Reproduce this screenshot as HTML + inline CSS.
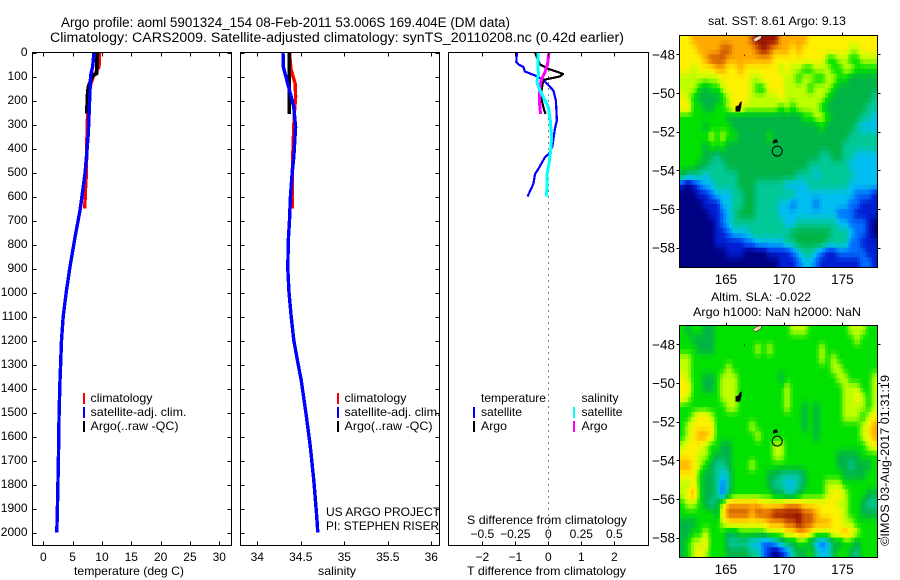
<!DOCTYPE html>
<html lang="en">
<head>
<meta charset="utf-8">
<title>Argo profile 5901324_154</title>
<style>
html,body{margin:0;padding:0;background:#fff;width:900px;height:580px;overflow:hidden}
svg{display:block}
text{font-family:"Liberation Sans",Arial,sans-serif;font-size:12px;fill:#000}
.ttl{font-size:13.5px}
.maptick{font-size:13.5px}
.line{fill:none;shape-rendering:crispEdges;stroke-linejoin:round}
</style>
</head>
<body>
<svg id="chart" xmlns="http://www.w3.org/2000/svg" width="900" height="580" viewBox="0 0 900 580">
<defs>
<clipPath id="clip-sst"><rect x="680" y="36" width="197" height="231"/></clipPath>
<clipPath id="clip-sla"><rect x="680" y="326" width="197" height="231"/></clipPath>
</defs>

<text class="ttl" x="61" y="27" textLength="449" lengthAdjust="spacingAndGlyphs">Argo profile: aoml 5901324_154 08-Feb-2011 53.006S 169.404E (DM data)</text>
<text class="ttl" x="50" y="42" textLength="574" lengthAdjust="spacingAndGlyphs">Climatology: CARS2009. Satellite-adjusted climatology: synTS_20110208.nc (0.42d earlier)</text>

<text x="74" y="575" textLength="110" lengthAdjust="spacingAndGlyphs">temperature (deg C)</text>
<text x="318" y="575" textLength="38" lengthAdjust="spacingAndGlyphs">salinity</text>
<text x="467" y="575" textLength="159" lengthAdjust="spacingAndGlyphs">T difference from climatology</text>
<text x="467" y="524" textLength="160" lengthAdjust="spacingAndGlyphs">S difference from climatology</text>

<text x="326" y="516" textLength="114" lengthAdjust="spacingAndGlyphs">US ARGO PROJECT</text>
<text x="326" y="530" textLength="113" lengthAdjust="spacingAndGlyphs">PI: STEPHEN RISER</text>

<text x="708" y="25" textLength="138" lengthAdjust="spacingAndGlyphs">sat. SST: 8.61 Argo: 9.13</text>
<text x="711" y="301" textLength="100" lengthAdjust="spacingAndGlyphs">Altim. SLA: -0.022</text>
<text x="693" y="316" textLength="168" lengthAdjust="spacingAndGlyphs">Argo h1000: NaN h2000: NaN</text>
<text transform="translate(889,546) rotate(-90)" x="0" y="0" textLength="171" lengthAdjust="spacingAndGlyphs">©IMOS 03-Aug-2017 01:31:19</text>

<g id="maps"></g>
<g id="profiles"></g>
<g id="axes"></g>

<g>
<rect x="83" y="393" width="2" height="11" fill="#ff0000"/>
<text x="90.5" y="402" textLength="62" lengthAdjust="spacingAndGlyphs">climatology</text>
<rect x="83" y="407" width="2" height="11" fill="#0000ff"/>
<text x="90.5" y="416" textLength="96" lengthAdjust="spacingAndGlyphs">satellite-adj. clim.</text>
<rect x="83" y="421" width="2" height="11" fill="#000"/>
<text x="90.5" y="430" textLength="88" lengthAdjust="spacingAndGlyphs">Argo(..raw -QC)</text>
</g>
<g>
<rect x="337" y="393" width="2" height="11" fill="#ff0000"/>
<text x="344.5" y="402" textLength="62" lengthAdjust="spacingAndGlyphs">climatology</text>
<rect x="337" y="407" width="2" height="11" fill="#0000ff"/>
<text x="344.5" y="416" textLength="96" lengthAdjust="spacingAndGlyphs">satellite-adj. clim.</text>
<rect x="337" y="421" width="2" height="11" fill="#000"/>
<text x="344.5" y="430" textLength="88" lengthAdjust="spacingAndGlyphs">Argo(..raw -QC)</text>
</g>
<g>
<text x="481" y="402" textLength="65" lengthAdjust="spacingAndGlyphs">temperature</text>
<rect x="473" y="407" width="2" height="11" fill="#0000ff"/>
<text x="481" y="416" textLength="41" lengthAdjust="spacingAndGlyphs">satellite</text>
<rect x="473" y="421" width="2" height="11" fill="#000"/>
<text x="481" y="430" textLength="26" lengthAdjust="spacingAndGlyphs">Argo</text>
<text x="581.5" y="402" textLength="37" lengthAdjust="spacingAndGlyphs">salinity</text>
<rect x="573" y="407" width="2" height="11" fill="#00ffff"/>
<text x="581.5" y="416" textLength="41" lengthAdjust="spacingAndGlyphs">satellite</text>
<rect x="573" y="421" width="2" height="11" fill="#ff00ff"/>
<text x="581.5" y="430" textLength="26" lengthAdjust="spacingAndGlyphs">Argo</text>
</g>
</svg>

<script>
// ---------- profile data ----------
const depthTicks = [0,100,200,300,400,500,600,700,800,900,1000,1100,1200,1300,1400,1500,1600,1700,1800,1900,2000];
const tempTicks = [0,5,10,15,20,25,30];
const salTicks = [34,34.5,35,35.5,36];
const salTickLabels = ['34','34.5','35','35.5','36'];
const tDiffTicks = [-2,-1,0,1,2];
const tDiffLabels = ['\u22122','\u22121','0','1','2'];
const sDiffTicks = [-0.5,-0.25,0,0.25,0.5];
const sDiffLabels = ['\u22120.5','\u22120.25','0','0.25','0.5'];

const tempClimDepth = [0,60,95,130,200,290,400,500,570,650];
const tempClimValue = [9.6,9.5,8.6,8.1,7.7,7.5,7.4,7.35,7.2,7.05];
const tempArgoDepth = [0,87,96,145,190,255];
const tempArgoValue = [9.2,9.1,8.4,7.67,7.5,7.45];
const tempSatDepth = [0,61,96,200,338,422,505,589,658,770,900,1000,1100,1200,1367,1500,1700,1900,2000];
const tempSatValue = [8.64,8.4,8.07,7.9,7.67,7.4,7.1,6.65,6.25,5.4,4.5,3.9,3.4,3.1,2.85,2.7,2.57,2.4,2.3];

const salClimDepth = [0,70,103,132,186,256,367,463,650];
const salClimValue = [34.37,34.387,34.414,34.437,34.44,34.425,34.414,34.405,34.4];
const salArgoDepth = [0,100,256];
const salArgoValue = [34.368,34.368,34.368];
const salSatDepth = [0,61,117,172,228,311,436,505,603,700,783,900,1000,1100,1200,1300,1367,1504,1645,1783,1921,2000];
const salSatValue = [34.295,34.3,34.34,34.38,34.42,34.44,34.42,34.4,34.38,34.37,34.356,34.35,34.364,34.39,34.42,34.47,34.506,34.56,34.61,34.65,34.68,34.695];

const diffTSatDepth = [0,40,51,61,79,96,114,158,200,283,318,394,422,436,485,506,547,600];
const diffTSatValue = [-0.95,-0.97,-0.89,-0.75,-0.71,-0.4,-0.15,0.15,0.23,0.26,0.2,0.12,0.02,-0.1,-0.3,-0.4,-0.45,-0.63];
const diffTArgoDepth = [0,19,50,68,89,100,114,172,200,242,256];
const diffTArgoValue = [-0.4,-0.35,-0.25,0,0.45,0.35,-0.15,-0.22,-0.2,-0.12,-0.08];
const diffSSatDepth = [0,89,124,158,200,228,283,353,408,464,506,600];
const diffSSatValue = [-0.078,-0.076,-0.086,-0.063,-0.025,0,0.015,0.025,0.018,0.005,-0.008,-0.013];
const diffSArgoDepth = [0,47,82,110,138,200,256];
const diffSArgoValue = [0.005,-0.005,-0.025,-0.05,-0.063,-0.068,-0.058];

// ---------- map data (colour level per half-degree cell, north to south) ----------
const mapLonTicks = [165,170,175];
const mapLatTicks = [-48,-50,-52,-54,-56,-58];
const levelColors = [[0,0,130],[0,30,210],[0,110,255],[0,190,240],[0,200,150],[0,180,70],[0,225,0],[190,255,0],[255,240,0],[255,170,0],[210,90,0],[150,20,0]];
const sstGrid = [
[8,8,9,9,9,9,9,9,9,9,9,9,10,11,11,11,11,9,9,9,9,9,8,8,8,8,8,8,8,8,8,8,8,8],
[8,8,8,9,9,9,9,10,10,9,9,9,9,10,11,10,9,9,9,8,9,8,8,8,8,8,8,8,8,7,7,8,8,8],
[8,8,8,8,9,10,10,10,9,9,9,9,9,9,9,9,8,8,8,8,8,8,8,8,8,6,6,7,7,6,6,7,7,7],
[8,8,7,8,8,8,9,9,8,8,9,8,8,8,8,8,8,7,8,7,7,6,6,7,7,7,6,6,7,7,6,6,6,6],
[7,7,7,7,7,7,7,8,8,8,8,8,7,7,8,8,8,8,7,7,6,7,7,6,6,7,7,6,6,5,5,5,5,5],
[7,7,7,6,5,6,6,7,8,8,8,8,7,6,6,8,8,8,7,7,7,7,6,7,7,7,6,5,5,5,5,5,5,5],
[8,7,6,5,5,5,5,6,7,8,8,8,7,7,7,7,7,8,7,7,7,7,7,7,7,6,5,5,5,5,5,5,5,4],
[8,8,6,6,5,5,6,6,7,8,8,7,7,7,7,7,7,6,7,6,7,7,7,7,6,5,5,5,5,5,5,5,4,4],
[6,6,6,6,6,6,6,6,5,5,5,5,5,5,5,5,5,5,5,5,5,6,6,7,7,6,5,5,5,5,5,4,4,3],
[6,6,6,6,5,6,6,6,6,5,5,5,5,5,5,5,5,5,5,5,5,5,5,5,6,5,5,5,5,5,4,3,3,3],
[6,6,6,6,6,7,6,7,6,6,5,5,5,5,5,6,5,5,5,5,5,5,5,5,5,5,5,5,5,4,4,4,4,4],
[6,6,6,6,5,6,6,6,5,5,5,5,5,5,5,5,5,5,5,5,5,5,5,5,5,5,5,5,4,4,4,4,4,4],
[6,6,6,6,5,5,4,5,5,5,5,5,5,5,5,5,5,5,5,5,5,5,5,5,4,4,5,5,4,4,3,3,3,3],
[6,6,6,5,5,4,4,4,5,5,5,5,5,5,5,5,5,5,5,5,5,5,4,4,4,4,4,4,4,3,3,3,3,3],
[5,4,4,4,3,4,4,4,4,4,5,5,5,5,5,5,5,5,5,5,4,4,4,3,4,4,4,4,4,4,3,3,3,3],
[1,0,1,2,3,3,4,4,4,4,5,5,5,4,4,4,4,4,3,3,3,3,4,4,4,4,4,4,4,3,3,3,3,3],
[0,0,0,1,1,2,3,3,3,4,4,5,5,4,4,4,4,4,4,4,3,3,3,3,3,3,3,3,3,3,2,2,2,1],
[0,0,0,0,1,1,1,3,3,4,4,5,5,4,4,4,4,3,3,2,3,3,3,2,3,3,3,3,3,2,2,1,1,1],
[0,0,0,0,0,1,1,2,3,4,5,5,5,4,4,4,4,3,3,3,3,3,3,3,3,3,3,2,2,2,1,1,1,1],
[0,0,0,0,0,0,1,2,3,4,4,4,4,4,4,4,4,4,3,3,4,4,4,4,4,4,4,3,3,2,2,2,1,0],
[0,0,0,0,0,0,1,1,2,3,3,3,4,4,4,4,4,4,4,5,5,5,5,5,5,5,4,4,4,3,2,2,1,0],
[0,0,0,0,0,0,1,1,1,1,1,2,2,3,3,3,3,3,4,4,5,5,5,5,5,4,4,4,4,2,2,1,1,1],
[0,0,0,0,0,0,0,0,1,1,1,0,0,0,0,1,1,1,1,2,3,4,4,3,2,1,1,2,2,2,2,2,1,1],
[0,0,0,0,0,0,0,0,0,0,0,0,0,0,0,0,0,1,1,1,2,3,3,2,1,1,1,1,1,1,1,2,2,1]
];
const slaGrid = [
[6,5,6,6,5,5,6,6,6,6,6,6,6,6,6,6,6,6,6,7,7,7,6,6,6,6,6,6,6,7,7,7,6,6],
[6,6,5,5,5,5,6,6,6,6,6,6,6,6,6,6,6,6,6,6,6,6,6,6,6,6,6,6,6,6,7,6,6,6],
[6,6,6,5,5,5,6,6,6,6,6,6,6,7,6,7,6,6,6,6,6,6,6,6,7,6,6,6,6,6,6,6,6,6],
[7,7,6,6,6,6,6,6,6,6,6,6,6,6,6,6,6,6,6,6,6,6,6,6,7,6,7,6,6,6,6,6,6,6],
[7,7,6,6,6,6,6,6,7,6,6,6,6,6,6,6,6,6,6,6,6,6,6,6,6,6,7,7,6,6,6,6,6,6],
[8,7,6,6,5,5,6,7,7,7,6,6,6,6,6,6,6,5,6,6,6,6,6,6,6,6,6,7,7,6,6,6,6,7],
[8,8,6,6,5,5,6,7,7,7,6,6,6,6,6,6,6,6,7,6,6,6,6,6,6,6,6,6,7,7,7,6,6,7],
[8,7,6,6,6,6,6,7,7,7,6,6,6,6,6,6,6,6,7,6,6,6,6,6,6,6,6,6,7,7,8,7,6,7],
[6,6,6,6,6,6,6,6,7,7,6,6,6,6,6,6,6,6,7,6,6,5,6,5,6,6,6,6,7,7,7,7,6,7],
[6,6,7,8,8,7,6,6,6,6,6,6,6,6,6,6,6,6,6,6,6,5,6,5,6,6,6,6,7,7,7,6,7,8],
[6,7,8,8,8,8,6,6,6,6,6,6,7,6,6,6,6,6,6,6,6,5,6,5,6,6,6,6,6,6,6,7,8,9],
[6,7,8,9,9,8,6,6,6,6,6,6,6,7,6,6,6,6,6,6,6,6,6,5,6,6,6,6,6,6,6,7,8,9],
[7,8,8,8,7,6,6,5,5,6,6,6,6,6,6,6,7,7,6,6,6,6,6,6,6,6,6,6,6,6,6,6,7,8],
[8,8,8,7,7,6,5,5,5,6,6,6,6,6,6,6,7,7,6,6,6,6,6,6,6,6,6,5,5,5,5,6,6,6],
[9,9,8,7,6,5,4,4,5,6,6,6,7,6,6,6,6,6,6,6,6,6,6,6,6,6,6,5,5,4,5,5,5,6],
[8,8,8,6,5,5,4,3,4,6,6,6,6,6,6,5,5,4,4,4,4,5,6,6,6,6,6,6,5,5,5,5,6,6],
[7,7,8,6,5,5,4,2,4,6,6,6,6,6,6,5,4,4,3,3,4,5,6,6,6,7,7,7,6,6,6,6,6,6],
[7,8,9,6,5,5,4,2,5,6,6,6,6,6,6,6,5,5,4,4,5,6,6,6,6,7,8,8,7,6,6,6,5,5],
[6,7,7,6,5,4,5,7,9,9,9,9,9,9,8,8,8,8,9,9,9,8,8,8,8,8,8,7,7,6,6,5,4,4],
[6,6,6,6,6,6,5,8,10,10,10,10,9,10,10,10,11,11,11,11,11,10,10,9,8,8,8,8,7,6,6,5,5,5],
[5,5,5,6,6,6,6,7,8,8,8,8,8,8,8,9,9,9,10,10,11,10,10,9,9,9,8,8,7,7,6,6,6,6],
[5,5,6,6,7,6,6,6,5,5,6,6,6,6,6,7,7,7,8,8,9,9,8,7,7,7,8,8,9,8,7,6,6,6],
[5,6,7,7,8,6,6,6,4,4,4,4,3,3,2,2,3,4,5,5,6,6,5,3,2,3,5,5,6,6,5,6,6,6],
[5,6,7,8,7,6,6,6,5,5,5,5,4,4,2,1,0,1,2,4,5,5,6,4,3,3,5,6,6,5,4,6,6,6]
];
const blobCampbell = [[166.35,-50.45],[166.2,-50.5],[166.1,-50.65],[165.85,-50.7],[165.85,-50.95],[166.2,-50.95],[166.3,-50.7]];
const blobSmall = [[169.1,-52.45],[169.35,-52.4],[169.45,-52.55],[169.05,-52.6]];
const islandPeach = [[167.3,-47.25],[167.6,-47.1],[168.1,-47.0],[168,-47.2],[167.7,-47.3],[167.5,-47.35]];
const profileLon = 169.404;
const profileLat = -53.006;

// ---------- scales ----------
const NS = 'http://www.w3.org/2000/svg';
const yD = d => 52.5 + d * 0.24;
const xT = v => 43.3 + v * 5.867;
const xS = v => 257.3 + (v - 34) * 87;
const xDT = v => 548.3 + v * 33;
const xDS = v => 548.3 + v * 132;
const xLon = v => 679.3 + (v - 161) * 11.65;
const yLat = (v, top) => top + (-47 - v) * 19.33;

function svgEl(tag, parent, attrs) {
  const e = document.createElementNS(NS, tag);
  for (const k in attrs) e.setAttribute(k, attrs[k]);
  parent.appendChild(e);
  return e;
}
const axes = document.getElementById('axes');
const profiles = document.getElementById('profiles');
const maps = document.getElementById('maps');

// ---------- profile lines ----------
function drawLine(depths, values, xf, color, width, name) {
  const pts = depths.map((d, i) => xf(values[i]).toFixed(1) + ',' + yD(d).toFixed(1)).join(' ');
  const el = svgEl('polyline', profiles, {points: pts, stroke: color, 'stroke-width': width, 'class': 'line'});
  
  
}
drawLine(tempClimDepth, tempClimValue, xT, '#ff0000', 3.4, 'temperature-climatology-line');
drawLine(tempArgoDepth, tempArgoValue, xT, '#000000', 3.8, 'temperature-argo-line');
drawLine(tempSatDepth, tempSatValue, xT, '#0000ff', 3.4, 'temperature-satellite-line');
drawLine(salClimDepth, salClimValue, xS, '#ff0000', 3.4, 'salinity-climatology-line');
drawLine(salArgoDepth, salArgoValue, xS, '#000000', 3.4, 'salinity-argo-line');
drawLine(salSatDepth, salSatValue, xS, '#0000ff', 3.4, 'salinity-satellite-line');

const zero = svgEl('line', profiles, {x1: 548.5, x2: 548.5, y1: 52.5, y2: 545, stroke: '#000', 'stroke-width': 1, 'stroke-dasharray': '1 5', 'shape-rendering': 'crispEdges'});



drawLine(diffTSatDepth, diffTSatValue, xDT, '#0000ff', 2.2, 't-difference-satellite-line');
drawLine(diffTArgoDepth, diffTArgoValue, xDT, '#000000', 2.2, 't-difference-argo-line');
drawLine(diffSArgoDepth, diffSArgoValue, xDS, '#ff00ff', 3, 's-difference-argo-line');
drawLine(diffSSatDepth, diffSSatValue, xDS, '#00ffff', 3, 's-difference-satellite-line');

// ---------- axes ----------
function tick(x1, y1, x2, y2) {
  const t = svgEl('line', axes, {x1: x1, y1: y1, x2: x2, y2: y2, stroke: '#000', 'stroke-width': 1, 'shape-rendering': 'crispEdges'});
  
  
}
function label(x, y, str, anchor, cls) {
  const t = svgEl('text', axes, {x: x, y: y, 'text-anchor': anchor});
  if (cls) t.setAttribute('class', cls);
  t.textContent = str;
  
  
}
function box(x0, y0, x1, y1, name) {
  const r = svgEl('rect', axes, {x: x0, y: y0, width: x1 - x0, height: y1 - y0, fill: 'none', stroke: '#000', 'stroke-width': 1, 'shape-rendering': 'crispEdges'});
  
  
}
const P = [[32.5, 231.5], [240.5, 439.5], [448.5, 648.5]];
box(P[0][0], 52.5, P[0][1], 545.5, 'temperature-axes-box');
box(P[1][0], 52.5, P[1][1], 545.5, 'salinity-axes-box');
box(P[2][0], 52.5, P[2][1], 545.5, 'difference-axes-box');

depthTicks.forEach(d => {
  const y = Math.round(yD(d)) + 0.5;
  tick(P[0][0], y, P[0][0] + 4, y);
  tick(P[0][1] - 4, y, P[0][1], y);
  tick(P[1][0], y, P[1][0] + 4, y);
  tick(P[1][1] - 4, y, P[1][1], y);
  label(27.5, yD(d) + 3.5, String(d), 'end');
});
tempTicks.forEach(v => {
  const x = Math.round(xT(v)) + 0.5;
  tick(x, 52.5, x, 56.5);
  tick(x, 541.5, x, 545.5);
  label(xT(v), 561, String(v), 'middle');
});
salTicks.forEach((v, i) => {
  const x = Math.round(xS(v)) + 0.5;
  tick(x, 52.5, x, 56.5);
  tick(x, 541.5, x, 545.5);
  label(xS(v), 561, salTickLabels[i], 'middle');
});
tDiffTicks.forEach((v, i) => {
  const x = Math.round(xDT(v)) + 0.5;
  tick(x, 52.5, x, 56.5);
  tick(x, 541.5, x, 545.5);
  label(xDT(v), 561, tDiffLabels[i], 'middle');
});
sDiffTicks.forEach((v, i) => {
  label(xDS(v), 538, sDiffLabels[i], 'middle');
});

// ---------- maps ----------
function levelColor(v) {
  const lo = Math.max(0, Math.min(levelColors.length - 1, Math.floor(v)));
  const hi = Math.min(levelColors.length - 1, lo + 1);
  const f = v - lo;
  const c = [0, 1, 2].map(i => Math.round(levelColors[lo][i] + (levelColors[hi][i] - levelColors[lo][i]) * f));
  return 'rgb(' + c.join(',') + ')';
}
function sampleGrid(grid, rf, cf) {
  const rows = grid.length, cols = grid[0].length;
  const r = Math.max(0, Math.min(rows - 1, rf - 0.5));
  const c = Math.max(0, Math.min(cols - 1, cf - 0.5));
  const r0 = Math.floor(r), c0 = Math.floor(c);
  const r1 = Math.min(rows - 1, r0 + 1), c1 = Math.min(cols - 1, c0 + 1);
  const fr = r - r0, fc = c - c0;
  return (grid[r0][c0] * (1 - fc) + grid[r0][c1] * fc) * (1 - fr) + (grid[r1][c0] * (1 - fc) + grid[r1][c1] * fc) * fr;
}
function drawMap(grid, top, clipId, sub, cellName, groupName) {
  const outer = svgEl('g', maps, {'clip-path': 'url(#' + clipId + ')'});
  
  
  const rows = grid.length, cols = grid[0].length;
  const lonStep = 17 / cols / sub;
  const latStep = 12 / rows / sub;
  for (let r = 0; r < rows * sub; r++) {
    for (let c = 0; c < cols * sub; c++) {
      const v = sampleGrid(grid, (r + 0.5) / sub, (c + 0.5) / sub);
      const x0 = xLon(161 + c * lonStep);
      const x1 = xLon(161 + (c + 1) * lonStep) + 0.4;
      const y0 = yLat(-47 - r * latStep, top);
      const y1 = yLat(-47 - (r + 1) * latStep, top) + 0.4;
      const cell = svgEl('rect', outer, {x: x0.toFixed(2), y: y0.toFixed(2), width: (x1 - x0).toFixed(2), height: (y1 - y0).toFixed(2), fill: levelColor(v)});
      
      
    }
  }
  const poly = (coords, fill, name) => {
    const pts = coords.map(p => xLon(p[0]).toFixed(1) + ',' + yLat(p[1], top).toFixed(1)).join(' ');
    const g = svgEl('polygon', outer, {points: pts, fill: fill, stroke: '#000', 'stroke-width': 0.5});
    
    
  };
  poly(blobCampbell, '#000', 'campbell-island');
  poly(blobSmall, '#000', 'macquarie-island');
  poly(islandPeach, '#ffd0b0', 'stewart-island');
  const dot = svgEl('rect', outer, {x: xLon(166.55), y: yLat(-48.02, top), width: 1, height: 1, fill: '#000'});
  
  
  const marker = svgEl('circle', outer, {cx: xLon(profileLon), cy: yLat(profileLat, top), r: 5, fill: 'none', stroke: '#000', 'stroke-width': 1});
  
  

  box(679.5, top + 0.5, 877.5, top + 232.5, groupName + '-frame');
  mapLonTicks.forEach(v => {
    const x = Math.round(xLon(v)) + 0.5;
    tick(x, top - 2.5, x, top + 0.5);
    label(xLon(v), top + 249, String(v), 'middle', 'maptick');
  });
  mapLatTicks.forEach(v => {
    const y = Math.round(yLat(v, top)) + 0.5;
    tick(676.5, y, 679.5, y);
    tick(877.5, y, 880.5, y);
    label(675, yLat(v, top) + 5, '\u2212' + Math.abs(v), 'end', 'maptick');
  });
}
drawMap(sstGrid, 35, 'clip-sst', 2, 'sst-cell', 'sst-map');
drawMap(slaGrid, 325, 'clip-sla', 2, 'sla-cell', 'sla-map');
</script>
</body>
</html>
